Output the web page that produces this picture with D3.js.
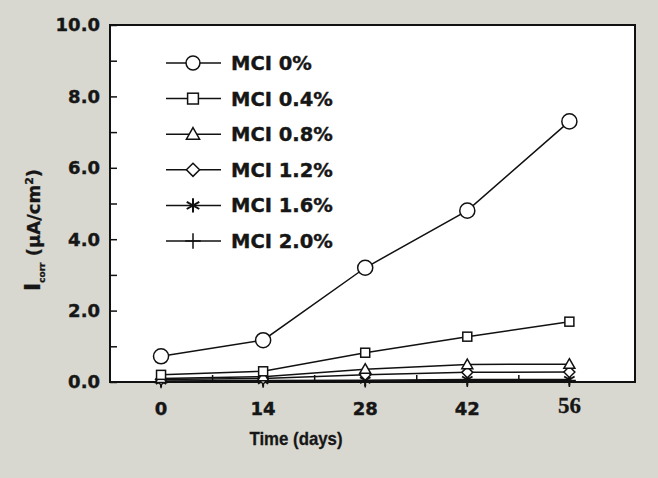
<!DOCTYPE html>
<html><head><meta charset="utf-8">
<script src="https://cdn.jsdelivr.net/npm/d3@7"></script>
<style>body{margin:0;background:#d9d8d0;} svg{display:block;}</style>
</head><body>
<svg id="c" width="658" height="478"></svg>
<script>
const days = [0, 14, 28, 42, 56];
const seriesNames = ["MCI 0%", "MCI 0.4%", "MCI 0.8%", "MCI 1.2%", "MCI 1.6%", "MCI 2.0%"];
const mci0 = [0.72, 1.17, 3.2, 4.8, 7.3];
const mci04 = [0.2, 0.3, 0.82, 1.27, 1.69];
const mci08 = [0.1, 0.15, 0.36, 0.49, 0.5];
const mci12 = [0.07, 0.1, 0.2, 0.27, 0.28];
const mci16 = [0.03, 0.04, 0.05, 0.07, 0.07];
const mci20 = [0.01, 0.02, 0.03, 0.04, 0.04];
const yTicks = [0, 2, 4, 6, 8, 10];
const yTickLabels = ["0.0", "2.0", "4.0", "6.0", "8.0", "10.0"];
const xTickLabels = ["0", "14", "28", "42", "56"];
const markerTypes = ["circle", "square", "triangle", "diamond", "star", "plus"];
const seriesValues = [mci0, mci04, mci08, mci12, mci16, mci20];

const svg = d3.select("#c");
const L = 110, R = 635, T = 25, B = 382;
const x = d3.scaleLinear().domain([-7, 65]).range([L, R]);
const y = d3.scaleLinear().domain([0, 10]).range([B, T]);

svg.append("rect").attr("x", L).attr("y", T).attr("width", R - L).attr("height", B - T)
  .attr("fill", "#fff").attr("stroke", "#111").attr("stroke-width", 2);

const font = "'DejaVu Sans', Verdana, sans-serif";
const ink = "#161616";

// y axis: inward ticks
const yAx = svg.append("g").attr("transform", `translate(${L},0)`)
  .call(d3.axisRight(y).tickValues(d3.range(0, 10.01, 1)).tickSize(7).tickFormat(""));
yAx.select(".domain").remove();
yAx.selectAll("line").attr("stroke", "#111").attr("stroke-width", 1.5);
svg.selectAll(".ylab").data(yTicks).enter().append("text")
  .attr("x", L - 10).attr("y", d => y(d)).attr("dy", "0.36em")
  .attr("text-anchor", "end").attr("font-family", font).attr("font-weight", "bold")
  .attr("font-size", 18).attr("fill", ink).attr("stroke", ink).attr("stroke-width", 0.4)
  .text((d, i) => yTickLabels[i]);

// x axis: inward ticks
const xAx = svg.append("g").attr("transform", `translate(0,${B})`)
  .call(d3.axisTop(x).tickValues(d3.range(0, 57, 7)).tickSize(7).tickFormat(""));
xAx.select(".domain").remove();
xAx.selectAll("line").attr("stroke", "#111").attr("stroke-width", 1.5);
svg.selectAll(".xlab").data(days).enter().append("text")
  .attr("x", d => x(d)).attr("y", (d, i) => i === 4 ? 413 : 415)
  .attr("text-anchor", "middle")
  .attr("font-family", (d, i) => i === 4 ? "'Liberation Serif', 'Times New Roman', serif" : font)
  .attr("font-weight", "bold")
  .attr("font-size", (d, i) => i === 4 ? 23 : 18).attr("fill", ink)
  .attr("stroke", ink).attr("stroke-width", (d, i) => i === 4 ? 0.3 : 0.4)
  .text((d, i) => xTickLabels[i]);

// axis titles
svg.append("text").attr("x", 296).attr("y", 445).attr("text-anchor", "middle")
  .attr("font-family", "Arial, 'Liberation Sans', sans-serif").attr("font-weight", "bold").attr("font-size", 19)
  .attr("textLength", 93).attr("lengthAdjust", "spacingAndGlyphs")
  .attr("fill", ink).attr("stroke", ink).attr("stroke-width", 0.3).text("Time (days)");

const yt = svg.append("text").attr("transform", "translate(40,230) rotate(-90)")
  .attr("text-anchor", "middle").attr("font-family", font).attr("font-weight", "bold")
  .attr("font-size", 18).attr("fill", ink).attr("stroke", ink).attr("stroke-width", 0.3);
yt.append("tspan").attr("font-size", 22).text("I");
yt.append("tspan").attr("font-size", 9).attr("dy", 5).text("corr");
yt.append("tspan").attr("dy", -5).text(" (μA/cm");
yt.append("tspan").attr("font-size", 11).attr("dy", -7).text("2");
yt.append("tspan").attr("dy", 7).text(")");

function drawMarker(g, type, cx, cy, s) {
  const st = {fill: "#fff", stroke: "#111", "stroke-width": 1.5};
  let el;
  if (type === "circle") {
    el = g.append("circle").attr("cx", cx).attr("cy", cy).attr("r", s * 0.58);
  } else if (type === "square") {
    el = g.append("rect").attr("x", cx - s * 0.45).attr("y", cy - s * 0.45).attr("width", s * 0.9).attr("height", s * 0.9);
  } else if (type === "triangle") {
    const h = s * 0.55;
    el = g.append("path").attr("d", `M${cx},${cy - h}L${cx + h},${cy + h * 0.75}L${cx - h},${cy + h * 0.75}Z`);
  } else if (type === "diamond") {
    const h = s * 0.55;
    el = g.append("path").attr("d", `M${cx},${cy - h}L${cx + h},${cy}L${cx},${cy + h}L${cx - h},${cy}Z`);
  } else if (type === "star") {
    const h = s * 0.6;
    el = g.append("path").attr("d",
      `M${cx},${cy - h}L${cx},${cy + h}M${cx - h * 0.87},${cy - h * 0.5}L${cx + h * 0.87},${cy + h * 0.5}M${cx - h * 0.87},${cy + h * 0.5}L${cx + h * 0.87},${cy - h * 0.5}`)
      .attr("fill", "none");
    st["stroke-width"] = 2;
  } else {
    const h = s * 0.65;
    el = g.append("path").attr("d", `M${cx},${cy - h}L${cx},${cy + h}M${cx - h},${cy}L${cx + h},${cy}`).attr("fill", "none");
  }
  Object.entries(st).forEach(([k, v]) => { if (!(k === "fill" && (type === "star" || type === "plus"))) el.attr(k, v); });
}

const line = d3.line().x((d, i) => x(days[i])).y(d => y(d));
const plot = svg.append("g");
for (let k = seriesValues.length - 1; k >= 0; k--) {
  plot.append("path").datum(seriesValues[k]).attr("d", line)
    .attr("fill", "none").attr("stroke", "#111").attr("stroke-width", 1.5);
}
for (let k = seriesValues.length - 1; k >= 0; k--) {
  seriesValues[k].forEach((v, i) => {
    drawMarker(plot, markerTypes[k], x(days[i]), y(v), k === 0 ? 13 : 10);
  });
}

// legend
const lg = svg.append("g");
seriesNames.forEach((n, i) => {
  const ly = 63 + i * 35.6;
  lg.append("line").attr("x1", 166).attr("x2", 221).attr("y1", ly).attr("y2", ly)
    .attr("stroke", "#111").attr("stroke-width", 1.5);
  drawMarker(lg, markerTypes[i], 193, ly, 12);
  lg.append("text").attr("x", 231).attr("y", ly).attr("dy", "0.36em")
    .attr("font-family", font).attr("font-weight", "bold").attr("font-size", 19.5)
    .attr("fill", ink).attr("stroke", ink).attr("stroke-width", 0.4).text(n);
});
</script>
</body></html>
